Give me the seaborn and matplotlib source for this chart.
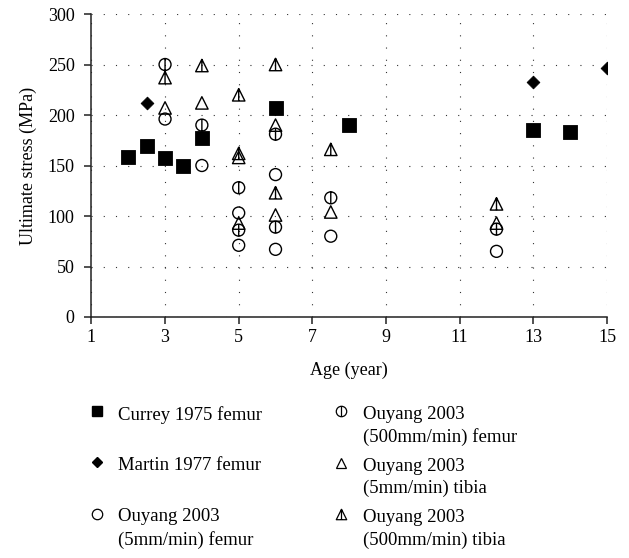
import numpy as np
import pandas as pd
import matplotlib
matplotlib.use("Agg")
import matplotlib.pyplot as plt
import seaborn as sns
from matplotlib.path import Path
from matplotlib.lines import Line2D

# ---- data ----
currey_age = [2, 2.5, 3, 3.5, 4, 6, 8, 13, 14]
currey_stress = [158, 169, 157, 150, 177, 207, 190, 185, 183]
martin_age = [2.5, 13, 15]
martin_stress = [212, 233, 247]
ouyang_age = [3, 4, 5, 5, 6, 6, 7.5, 12]
o5_femur = [196, 150, 103, 71, 141, 67, 80, 65]
o500_femur = [250, 190, 128, 86, 181, 89, 118, 87]
o5_tibia = [207, 212, 158, 93, 190, 101, 104, 93]
o500_tibia = [237, 249, 220, 162, 250, 123, 166, 112]

labels = ["Currey 1975 femur", "Martin 1977 femur", "Ouyang 2003\n(5mm/min) femur",
          "Ouyang 2003\n(500mm/min) femur", "Ouyang 2003\n(5mm/min) tibia",
          "Ouyang 2003\n(500mm/min) tibia"]
x_ticks = [1, 3, 5, 7, 9, 11, 13, 15]
y_ticks = [0, 50, 100, 150, 200, 250, 300]

plt.rcParams['font.family'] = ['Liberation Serif', 'DejaVu Serif']

circle_line = Path.make_compound_path(
    Path.unit_circle(), Path([[0, -1], [0, 1]], [Path.MOVETO, Path.LINETO]))
triangle_line = Path.make_compound_path(
    Path([[0, 1], [-1, -1], [1, -1], [0, 1]],
         [Path.MOVETO, Path.LINETO, Path.LINETO, Path.CLOSEPOLY]),
    Path([[0, 1], [0, -1]], [Path.MOVETO, Path.LINETO]))

fig = plt.figure(figsize=(6.29, 5.58), dpi=100)
ax = fig.add_axes([0.1453, 0.4319, 0.8197, 0.543])

series = [
    (currey_age, currey_stress, "s", 92, True),
    (martin_age, martin_stress, "D", 42, True),
    (ouyang_age, o5_femur, "o", 74, False),
    (ouyang_age, o500_femur, circle_line, 74, False),
    (ouyang_age, o5_tibia, "^", 80, False),
    (ouyang_age, o500_tibia, triangle_line, 80, False),
]
for (xs, ys, m, s, filled), lab in zip(series, labels):
    df = pd.DataFrame({"age": xs, "stress": ys})
    if filled:
        sns.scatterplot(data=df, x="age", y="stress", marker=m, s=s, color="black",
                        edgecolor="black", linewidth=0.6, ax=ax, zorder=3, legend=False)
    else:
        sns.scatterplot(data=df, x="age", y="stress", marker=m, s=s, color="black",
                        facecolor="none", edgecolor="black", linewidth=1.0, ax=ax,
                        zorder=3, legend=False)

ax.set_xlim(1, 15)
ax.set_ylim(0, 300)
ax.set_xticks(x_ticks)
ax.set_yticks(y_ticks)
ax.grid(True, color="#333333", linestyle=(0, (1, 10)), linewidth=0.8)
ax.set_axisbelow(True)
for sp in ["top", "right"]:
    ax.spines[sp].set_visible(False)
for sp in ["left", "bottom"]:
    ax.spines[sp].set_linewidth(1.1)
    ax.spines[sp].set_color("#222222")
ax.tick_params(direction="out", length=5, width=1.1, color="#222222",
               labelsize=13)
ax.tick_params(axis="x", pad=4)
ax.tick_params(axis="y", pad=7)
ax.set_xlabel("Age (year)", fontsize=13, labelpad=11)
ax.set_ylabel("Ultimate stress (MPa)", fontsize=13, labelpad=8)

# ---- legend ----
ms = 7.5
handles = [
    Line2D([], [], linestyle="none", marker="s", markersize=ms, color="black"),
    Line2D([], [], linestyle="none", marker="D", markersize=5.5, color="black"),
    Line2D([], [], linestyle="none", marker="o", markersize=ms, markerfacecolor="none",
           markeredgecolor="black", markeredgewidth=0.9),
    Line2D([], [], linestyle="none", marker=circle_line, markersize=ms,
           markerfacecolor="none", markeredgecolor="black", markeredgewidth=0.9),
    Line2D([], [], linestyle="none", marker="^", markersize=ms, markerfacecolor="none",
           markeredgecolor="black", markeredgewidth=0.9),
    Line2D([], [], linestyle="none", marker=triangle_line, markersize=ms,
           markerfacecolor="none", markeredgecolor="black", markeredgewidth=0.9),
]
leg_labels = [l if "\n" in l else l + "\n " for l in labels]
leg = fig.legend(handles, leg_labels, loc="upper left", bbox_to_anchor=(0.124, 0.29),
                 ncol=2, frameon=False, fontsize=13.5, borderpad=0, handlelength=1.0,
                 handletextpad=0.65, columnspacing=3.7, labelspacing=0.6)
for t in leg.get_texts():
    t.set_linespacing(1.42)
for h in leg.legend_handles:
    h.set_ydata(np.asarray(h.get_ydata()) + 10.5)

fig.savefig("out.png", dpi=100)
